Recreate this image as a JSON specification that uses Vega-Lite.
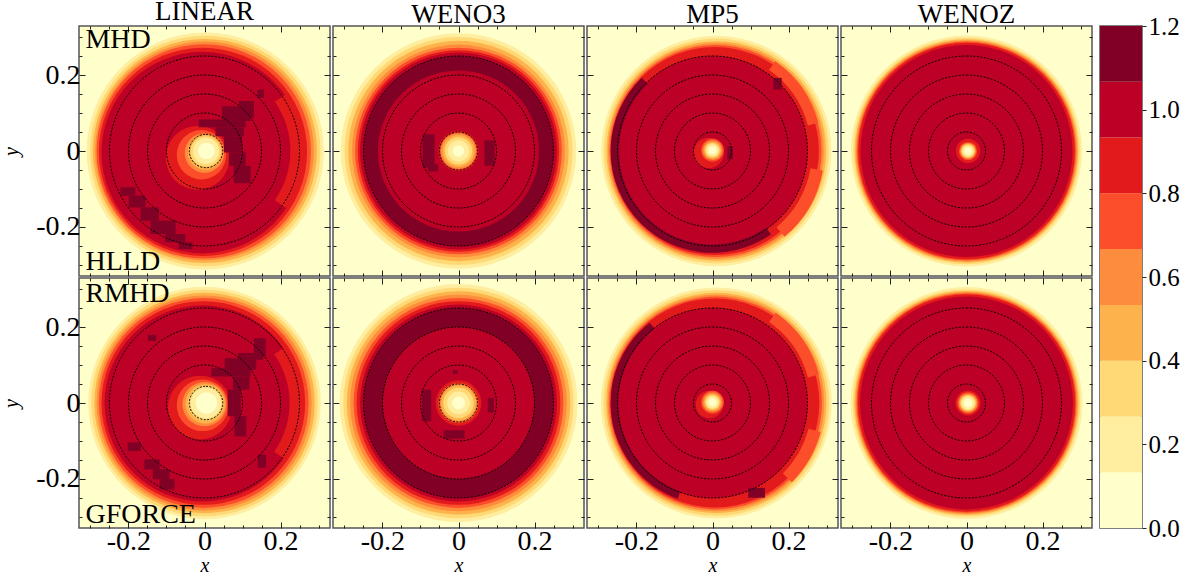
{
"$schema":"https://vega.github.io/schema/vega-lite/v6.json",
"background":"white",
"padding":{"left":0,"top":-3,"right":0,"bottom":0},
"config":{"view":{"fill":"#ffffcc","stroke":"#555","strokeWidth":1.5},"font":"Liberation Serif",
"axis":{"grid":false,"domain":false,"tickCount":13,"labels":false,"tickColor":"#222","tickWidth":1,"tickSize":{"condition":{"test":"round(datum.value*100)%20==0","value":-6},"value":-3},"labelFont":"Liberation Serif","labelFontSize":28,"labelColor":"black","labelPadding":5,"labelOverlap":false,"titleFont":"Liberation Serif","titleFontStyle":"italic","titleFontWeight":"normal","titleFontSize":20,"titleColor":"black"},
"axisX":{"titlePadding":-3},"axisY":{"titlePadding":14},
"title":{"font":"Liberation Serif","fontSize":27,"fontWeight":"normal","color":"black","offset":-3,"anchor":"middle"}},
"datasets":{
"c":[{"g":"A","x":0,"y":0,"r":0.1},{"g":"A","x":0,"y":0,"r":0.15},{"g":"A","x":0,"y":0,"r":0.2},{"g":"A","x":0,"y":0,"r":0.25},{"g":"L","x":0.004,"y":0,"r":0.044},{"g":"O","x":0,"y":0,"r":0.05}],
"d":[
{"p":"L1","x":0.002,"y":0,"r":0.312,"v":0.2},{"p":"L1","x":0.002,"y":0,"r":0.303,"v":0.33},{"p":"L1","x":0.001,"y":0,"r":0.295,"v":0.47},{"p":"L1","x":0,"y":0,"r":0.288,"v":0.6},{"p":"L1","x":-0.002,"y":-0.001,"r":0.282,"v":0.73},{"p":"L1","x":-0.004,"y":-0.002,"r":0.274,"v":0.87},{"p":"L1","x":-0.006,"y":-0.004,"r":0.265,"v":1.0},
{"p":"L1","x":-0.018,"y":-0.018,"r":0.084,"v":0.87},{"p":"L1","x":-0.008,"y":-0.01,"r":0.065,"v":0.73},{"p":"L1","x":0,"y":-0.005,"r":0.052,"v":0.6},{"p":"L1","x":0.002,"y":-0.003,"r":0.046,"v":0.47},{"p":"L1","x":0.003,"y":-0.001,"r":0.04,"v":0.33},{"p":"L1","x":0.004,"y":0,"r":0.034,"v":0.2},{"p":"L1","x":0.005,"y":0,"r":0.022,"v":0.07},
{"p":"L2","x":0,"y":0,"r":0.306,"v":0.2},{"p":"L2","x":0,"y":0,"r":0.298,"v":0.33},{"p":"L2","x":0,"y":0,"r":0.29,"v":0.47},{"p":"L2","x":-0.001,"y":0,"r":0.283,"v":0.6},{"p":"L2","x":-0.002,"y":0,"r":0.276,"v":0.73},{"p":"L2","x":-0.003,"y":0,"r":0.268,"v":0.87},{"p":"L2","x":-0.005,"y":-0.001,"r":0.258,"v":1.0},
{"p":"L2","x":-0.012,"y":-0.012,"r":0.084,"v":0.87},{"p":"L2","x":-0.005,"y":-0.006,"r":0.068,"v":0.73},{"p":"L2","x":0,"y":-0.003,"r":0.058,"v":0.6},{"p":"L2","x":0.002,"y":-0.002,"r":0.052,"v":0.47},{"p":"L2","x":0.003,"y":0,"r":0.046,"v":0.33},{"p":"L2","x":0.004,"y":0,"r":0.04,"v":0.2},{"p":"L2","x":0.005,"y":0,"r":0.028,"v":0.07},
{"p":"W1","x":0,"y":0,"r":0.31,"v":0.2},{"p":"W1","x":0,"y":0,"r":0.3,"v":0.33},{"p":"W1","x":0,"y":0,"r":0.29,"v":0.47},{"p":"W1","x":0,"y":0,"r":0.28,"v":0.6},{"p":"W1","x":0,"y":0,"r":0.272,"v":0.73},{"p":"W1","x":0,"y":0,"r":0.265,"v":0.87},{"p":"W1","x":0,"y":0,"r":0.259,"v":1.0},{"p":"W1","x":0,"y":0,"r":0.25,"v":1.13},{"p":"W1","x":0,"y":0,"r":0.212,"v":1.0},
{"p":"W1","x":0,"y":0,"r":0.053,"v":0.87},{"p":"W1","x":0,"y":0,"r":0.05,"v":0.73},{"p":"W1","x":0,"y":0,"r":0.047,"v":0.6},{"p":"W1","x":0,"y":0,"r":0.042,"v":0.47},{"p":"W1","x":0,"y":0,"r":0.036,"v":0.33},{"p":"W1","x":0,"y":0,"r":0.028,"v":0.2},{"p":"W1","x":0,"y":0,"r":0.015,"v":0.07},
{"p":"W2","x":0,"y":0,"r":0.313,"v":0.2},{"p":"W2","x":0,"y":0,"r":0.303,"v":0.33},{"p":"W2","x":0,"y":0,"r":0.294,"v":0.47},{"p":"W2","x":0,"y":0,"r":0.285,"v":0.6},{"p":"W2","x":0,"y":0,"r":0.276,"v":0.73},{"p":"W2","x":0,"y":0,"r":0.268,"v":0.87},{"p":"W2","x":0,"y":0,"r":0.259,"v":1.0},{"p":"W2","x":0,"y":0,"r":0.25,"v":1.13},{"p":"W2","x":0,"y":0,"r":0.2,"v":1.0},
{"p":"W2","x":0,"y":0,"r":0.06,"v":0.87},{"p":"W2","x":0,"y":0,"r":0.053,"v":0.73},{"p":"W2","x":0,"y":0,"r":0.05,"v":0.6},{"p":"W2","x":0,"y":0,"r":0.046,"v":0.47},{"p":"W2","x":0,"y":0,"r":0.04,"v":0.33},{"p":"W2","x":0,"y":0,"r":0.03,"v":0.2},{"p":"W2","x":0,"y":0,"r":0.017,"v":0.07},
{"p":"M1","x":0.01,"y":0,"r":0.303,"v":0.2},{"p":"M1","x":0.01,"y":0,"r":0.296,"v":0.33},{"p":"M1","x":0.01,"y":0,"r":0.289,"v":0.47},{"p":"M1","x":0.009,"y":0,"r":0.284,"v":0.6},{"p":"M1","x":0.008,"y":0,"r":0.279,"v":0.73},{"p":"M1","x":0.006,"y":0,"r":0.274,"v":0.87},{"p":"M1","x":0,"y":0,"r":0.25,"v":1.0},
{"p":"M1","x":-0.01,"y":-0.005,"r":0.04,"v":0.87},{"p":"M1","x":0,"y":0.002,"r":0.03,"v":0.73},{"p":"M1","x":0,"y":0.002,"r":0.026,"v":0.6},{"p":"M1","x":0,"y":0.002,"r":0.022,"v":0.47},{"p":"M1","x":0,"y":0.002,"r":0.019,"v":0.33},{"p":"M1","x":0,"y":0.002,"r":0.016,"v":0.2},{"p":"M1","x":0,"y":0.002,"r":0.01,"v":0.07},
{"p":"M2","x":0.01,"y":0,"r":0.304,"v":0.2},{"p":"M2","x":0.01,"y":0,"r":0.297,"v":0.33},{"p":"M2","x":0.01,"y":0,"r":0.29,"v":0.47},{"p":"M2","x":0.009,"y":0,"r":0.285,"v":0.6},{"p":"M2","x":0.008,"y":0,"r":0.28,"v":0.73},{"p":"M2","x":0.006,"y":0,"r":0.275,"v":0.87},{"p":"M2","x":0,"y":0,"r":0.25,"v":1.0},
{"p":"M2","x":-0.008,"y":-0.004,"r":0.036,"v":0.87},{"p":"M2","x":0,"y":0.002,"r":0.03,"v":0.73},{"p":"M2","x":0,"y":0.002,"r":0.026,"v":0.6},{"p":"M2","x":0,"y":0.002,"r":0.022,"v":0.47},{"p":"M2","x":0,"y":0.002,"r":0.019,"v":0.33},{"p":"M2","x":0,"y":0.002,"r":0.016,"v":0.2},{"p":"M2","x":0,"y":0.002,"r":0.01,"v":0.07},
{"p":"Z1","x":0,"y":0,"r":0.304,"v":0.2},{"p":"Z1","x":0,"y":0,"r":0.298,"v":0.33},{"p":"Z1","x":0,"y":0,"r":0.294,"v":0.47},{"p":"Z1","x":0,"y":0,"r":0.291,"v":0.6},{"p":"Z1","x":0,"y":0,"r":0.288,"v":0.73},{"p":"Z1","x":0,"y":0,"r":0.285,"v":0.87},{"p":"Z1","x":0,"y":0,"r":0.279,"v":1.0},
{"p":"Z1","x":0.004,"y":0,"r":0.032,"v":0.87},{"p":"Z1","x":0.004,"y":0,"r":0.024,"v":0.73},{"p":"Z1","x":0.004,"y":0,"r":0.021,"v":0.6},{"p":"Z1","x":0.004,"y":0,"r":0.019,"v":0.47},{"p":"Z1","x":0.004,"y":0,"r":0.017,"v":0.33},{"p":"Z1","x":0.004,"y":0,"r":0.014,"v":0.2},{"p":"Z1","x":0.004,"y":0,"r":0.009,"v":0.07},
{"p":"Z2","x":0,"y":0,"r":0.305,"v":0.2},{"p":"Z2","x":0,"y":0,"r":0.299,"v":0.33},{"p":"Z2","x":0,"y":0,"r":0.295,"v":0.47},{"p":"Z2","x":0,"y":0,"r":0.292,"v":0.6},{"p":"Z2","x":0,"y":0,"r":0.289,"v":0.73},{"p":"Z2","x":0,"y":0,"r":0.286,"v":0.87},{"p":"Z2","x":0,"y":0,"r":0.28,"v":1.0},
{"p":"Z2","x":0.004,"y":0,"r":0.033,"v":0.87},{"p":"Z2","x":0.004,"y":0,"r":0.028,"v":0.73},{"p":"Z2","x":0.004,"y":0,"r":0.025,"v":0.6},{"p":"Z2","x":0.004,"y":0,"r":0.022,"v":0.47},{"p":"Z2","x":0.004,"y":0,"r":0.02,"v":0.33},{"p":"Z2","x":0.004,"y":0,"r":0.017,"v":0.2},{"p":"Z2","x":0.004,"y":0,"r":0.011,"v":0.07}
],
"s":[
{"p":"L1","x":0,"y":0,"r0":0.226,"r":0.262,"t0":55,"t1":125,"v":0.87},
{"p":"L2","x":0,"y":0,"r0":0.224,"r":0.255,"t0":55,"t1":125,"v":0.87},
{"p":"M1","x":0,"y":0,"r0":0.246,"r":0.268,"t0":145,"t1":316,"v":1.13},{"p":"M1","x":0,"y":0,"r0":0.26,"r":0.288,"t0":35,"t1":75,"v":0.73},{"p":"M1","x":0,"y":0,"r0":0.262,"r":0.295,"t0":100,"t1":140,"v":0.73},
{"p":"M2","x":0,"y":0,"r0":0.248,"r":0.268,"t0":200,"t1":322,"v":1.13},{"p":"M2","x":0,"y":0,"r0":0.26,"r":0.29,"t0":35,"t1":75,"v":0.73},{"p":"M2","x":0,"y":0,"r0":0.262,"r":0.295,"t0":105,"t1":135,"v":0.73}
],
"b":[
{"p":"L1","x":0.09,"x2":0.13,"y":0.132,"y2":0.088},{"p":"L1","x":0.046,"x2":0.121,"y":0.118,"y2":0.079},{"p":"L1","x":-0.015,"x2":0.108,"y":0.083,"y2":0.063},{"p":"L1","x":0.029,"x2":0.104,"y":0.063,"y2":0.039},{"p":"L1","x":0.051,"x2":0.099,"y":0.039,"y2":-0.004},{"p":"L1","x":0.064,"x2":0.108,"y":-0.004,"y2":-0.039},{"p":"L1","x":0.077,"x2":0.121,"y":-0.039,"y2":-0.085},{"p":"L1","x":0.139,"x2":0.156,"y":0.162,"y2":0.14},{"p":"L1","x":-0.221,"x2":-0.182,"y":-0.096,"y2":-0.118},{"p":"L1","x":-0.199,"x2":-0.155,"y":-0.118,"y2":-0.149},{"p":"L1","x":-0.168,"x2":-0.12,"y":-0.149,"y2":-0.184},{"p":"L1","x":-0.142,"x2":-0.076,"y":-0.184,"y2":-0.219},{"p":"L1","x":-0.103,"x2":-0.05,"y":-0.219,"y2":-0.241},{"p":"L1","x":-0.068,"x2":-0.032,"y":-0.241,"y2":-0.259},
{"p":"L2","x":0.13,"x2":0.161,"y":0.171,"y2":0.123},{"p":"L2","x":0.088,"x2":0.154,"y":0.132,"y2":0.114},{"p":"L2","x":0.053,"x2":0.136,"y":0.118,"y2":0.088},{"p":"L2","x":0.018,"x2":0.121,"y":0.092,"y2":0.07},{"p":"L2","x":0.075,"x2":0.118,"y":0.07,"y2":0.035},{"p":"L2","x":0.061,"x2":0.095,"y":0.035,"y2":-0.035},{"p":"L2","x":0.079,"x2":0.11,"y":-0.035,"y2":-0.088},{"p":"L2","x":-0.149,"x2":-0.127,"y":0.18,"y2":0.164},{"p":"L2","x":0.14,"x2":0.162,"y":-0.136,"y2":-0.171},{"p":"L2","x":-0.202,"x2":-0.167,"y":-0.104,"y2":-0.127},{"p":"L2","x":-0.158,"x2":-0.118,"y":-0.149,"y2":-0.175},{"p":"L2","x":-0.136,"x2":-0.092,"y":-0.175,"y2":-0.201},{"p":"L2","x":-0.118,"x2":-0.079,"y":-0.201,"y2":-0.228},
{"p":"W1","x":-0.094,"x2":-0.063,"y":0.044,"y2":-0.044},{"p":"W1","x":-0.08,"x2":-0.054,"y":-0.035,"y2":-0.054},{"p":"W1","x":0.068,"x2":0.095,"y":0.028,"y2":-0.039},
{"p":"W2","x":-0.096,"x2":-0.072,"y":0.035,"y2":-0.048},{"p":"W2","x":0.077,"x2":0.093,"y":0.013,"y2":-0.025},{"p":"W2","x":-0.039,"x2":0.016,"y":-0.072,"y2":-0.094},{"p":"W2","x":-0.015,"x2":-0.002,"y":0.086,"y2":0.077},
{"p":"M1","x":0.039,"x2":0.054,"y":0.013,"y2":-0.022},{"p":"M1","x":0.16,"x2":0.182,"y":0.193,"y2":0.162},
{"p":"M2","x":0.094,"x2":0.138,"y":-0.224,"y2":-0.25}
],
"t":[{"p":"L1","x":-0.313,"y":0.292,"l":"MHD"},{"p":"L1","x":-0.313,"y":-0.294,"l":"HLLD"},{"p":"L2","x":-0.313,"y":0.288,"l":"RMHD"},{"p":"L2","x":-0.313,"y":-0.296,"l":"GFORCE"}],
"k":[{"b0":0,"b1":0.1333,"v":0.07},{"b0":0.1333,"b1":0.2667,"v":0.2},{"b0":0.2667,"b1":0.4,"v":0.33},{"b0":0.4,"b1":0.5333,"v":0.47},{"b0":0.5333,"b1":0.6667,"v":0.6},{"b0":0.6667,"b1":0.8,"v":0.73},{"b0":0.8,"b1":0.9333,"v":0.87},{"b0":0.9333,"b1":1.0667,"v":1.0},{"b0":1.0667,"b1":1.2,"v":1.13}]
},
"hconcat":[
{"concat":[
{"width":251,"height":250,"title":"LINEAR","encoding":{"x":{"field":"x","type":"quantitative","axis":null,"scale":{"domain":[-0.33,0.33],"nice":false,"zero":false}},"y":{"field":"y","type":"quantitative","axis":null,"scale":{"domain":[-0.33,0.33],"nice":false,"zero":false}}},
"layer":[
{"data":{"name":"d"},"transform":[{"filter":"datum.p=='L1'"}],"mark":{"type":"arc","theta":0,"theta2":6.2832},"encoding":{"x":{"field":"x","type":"quantitative","title":null,"axis":{"labels":false},"scale":{"domain":[-0.33,0.33],"nice":false,"zero":false}},"y":{"field":"y","type":"quantitative","title":"y","axis":{"labels":true,"labelExpr":"datum.value==-0.2?'-0.2':datum.value==0.2?'0.2':datum.value==0?'0':''"},"scale":{"domain":[-0.33,0.33],"nice":false,"zero":false}},"radius":{"field":"r","type":"quantitative","stack":null,"scale":{"type":"linear","domain":[0,0.33],"range":[0,125.4]}},"color":{"field":"v","type":"quantitative","legend":null,"scale":{"type":"quantize","domain":[0,1.2],"range":["#ffffcc","#ffeda0","#fed976","#feb24c","#fd8d3c","#fc4e2a","#e31a1c","#bd0026","#800026"]}}}},
{"data":{"name":"s"},"transform":[{"filter":"datum.p=='L1'"}],"mark":"arc","encoding":{"theta":{"field":"t0","type":"quantitative","stack":null,"scale":{"domain":[0,360],"range":[0,6.2832]}},"theta2":{"field":"t1"},"radius":{"field":"r","type":"quantitative","stack":null},"radius2":{"field":"r0"},"color":{"field":"v","type":"quantitative","legend":null,"scale":{"type":"quantize","domain":[0,1.2],"range":["#ffffcc","#ffeda0","#fed976","#feb24c","#fd8d3c","#fc4e2a","#e31a1c","#bd0026","#800026"]}}}},
{"data":{"name":"b"},"transform":[{"filter":"datum.p=='L1'"}],"mark":{"type":"rect","color":"#800026"},"encoding":{"x2":{"field":"x2"},"y2":{"field":"y2"}}},
{"data":{"name":"c"},"transform":[{"filter":"datum.g=='A'||datum.g=='L'"}],"mark":{"type":"arc","theta":0,"theta2":6.2832,"filled":false,"stroke":"black","strokeWidth":1,"strokeDash":[2,1.5]},"encoding":{"radius":{"field":"r","type":"quantitative","stack":null},"x":{"field":"x","type":"quantitative","title":null,"axis":{"orient":"top","labels":false}},"y":{"field":"y","type":"quantitative","title":null,"axis":{"orient":"right","labels":false}}}},
{"data":{"name":"t"},"transform":[{"filter":"datum.p=='L1'"}],"mark":{"type":"text","align":"left","baseline":"middle","fontSize":28,"font":"Liberation Serif","color":"black"},"encoding":{"text":{"field":"l"}}}
],"resolve":{"axis":{"x":"independent","y":"independent"}}},

{"width":251,"height":250,"title":"WENO3","encoding":{"x":{"field":"x","type":"quantitative","axis":null,"scale":{"domain":[-0.33,0.33],"nice":false,"zero":false}},"y":{"field":"y","type":"quantitative","axis":null,"scale":{"domain":[-0.33,0.33],"nice":false,"zero":false}}},
"layer":[
{"data":{"name":"d"},"transform":[{"filter":"datum.p=='W1'"}],"mark":{"type":"arc","theta":0,"theta2":6.2832},"encoding":{"x":{"field":"x","type":"quantitative","title":null,"axis":{"labels":false},"scale":{"domain":[-0.33,0.33],"nice":false,"zero":false}},"y":{"field":"y","type":"quantitative","title":null,"axis":{"labels":false},"scale":{"domain":[-0.33,0.33],"nice":false,"zero":false}},"radius":{"field":"r","type":"quantitative","stack":null,"scale":{"type":"linear","domain":[0,0.33],"range":[0,125.4]}},"color":{"field":"v","type":"quantitative","legend":null,"scale":{"type":"quantize","domain":[0,1.2],"range":["#ffffcc","#ffeda0","#fed976","#feb24c","#fd8d3c","#fc4e2a","#e31a1c","#bd0026","#800026"]}}}},
{"data":{"name":"b"},"transform":[{"filter":"datum.p=='W1'"}],"mark":{"type":"rect","color":"#800026"},"encoding":{"x2":{"field":"x2"},"y2":{"field":"y2"}}},
{"data":{"name":"c"},"transform":[{"filter":"datum.g=='A'||datum.g=='O'"}],"mark":{"type":"arc","theta":0,"theta2":6.2832,"filled":false,"stroke":"black","strokeWidth":1,"strokeDash":[2,1.5]},"encoding":{"radius":{"field":"r","type":"quantitative","stack":null},"x":{"field":"x","type":"quantitative","title":null,"axis":{"orient":"top","labels":false}},"y":{"field":"y","type":"quantitative","title":null,"axis":{"orient":"right","labels":false}}}}
],"resolve":{"axis":{"x":"independent","y":"independent"}}},

{"width":251,"height":250,"title":"MP5","encoding":{"x":{"field":"x","type":"quantitative","axis":null,"scale":{"domain":[-0.33,0.33],"nice":false,"zero":false}},"y":{"field":"y","type":"quantitative","axis":null,"scale":{"domain":[-0.33,0.33],"nice":false,"zero":false}}},
"layer":[
{"data":{"name":"d"},"transform":[{"filter":"datum.p=='M1'"}],"mark":{"type":"arc","theta":0,"theta2":6.2832},"encoding":{"x":{"field":"x","type":"quantitative","title":null,"axis":{"labels":false},"scale":{"domain":[-0.33,0.33],"nice":false,"zero":false}},"y":{"field":"y","type":"quantitative","title":null,"axis":{"labels":false},"scale":{"domain":[-0.33,0.33],"nice":false,"zero":false}},"radius":{"field":"r","type":"quantitative","stack":null,"scale":{"type":"linear","domain":[0,0.33],"range":[0,125.4]}},"color":{"field":"v","type":"quantitative","legend":null,"scale":{"type":"quantize","domain":[0,1.2],"range":["#ffffcc","#ffeda0","#fed976","#feb24c","#fd8d3c","#fc4e2a","#e31a1c","#bd0026","#800026"]}}}},
{"data":{"name":"s"},"transform":[{"filter":"datum.p=='M1'"}],"mark":"arc","encoding":{"theta":{"field":"t0","type":"quantitative","stack":null,"scale":{"domain":[0,360],"range":[0,6.2832]}},"theta2":{"field":"t1"},"radius":{"field":"r","type":"quantitative","stack":null},"radius2":{"field":"r0"},"color":{"field":"v","type":"quantitative","legend":null,"scale":{"type":"quantize","domain":[0,1.2],"range":["#ffffcc","#ffeda0","#fed976","#feb24c","#fd8d3c","#fc4e2a","#e31a1c","#bd0026","#800026"]}}}},
{"data":{"name":"b"},"transform":[{"filter":"datum.p=='M1'"}],"mark":{"type":"rect","color":"#800026"},"encoding":{"x2":{"field":"x2"},"y2":{"field":"y2"}}},
{"data":{"name":"c"},"transform":[{"filter":"datum.g=='A'||datum.g=='O'"}],"mark":{"type":"arc","theta":0,"theta2":6.2832,"filled":false,"stroke":"black","strokeWidth":1,"strokeDash":[2,1.5]},"encoding":{"radius":{"field":"r","type":"quantitative","stack":null},"x":{"field":"x","type":"quantitative","title":null,"axis":{"orient":"top","labels":false}},"y":{"field":"y","type":"quantitative","title":null,"axis":{"orient":"right","labels":false}}}}
],"resolve":{"axis":{"x":"independent","y":"independent"}}},

{"width":251,"height":250,"title":"WENOZ","encoding":{"x":{"field":"x","type":"quantitative","axis":null,"scale":{"domain":[-0.33,0.33],"nice":false,"zero":false}},"y":{"field":"y","type":"quantitative","axis":null,"scale":{"domain":[-0.33,0.33],"nice":false,"zero":false}}},
"layer":[
{"data":{"name":"d"},"transform":[{"filter":"datum.p=='Z1'"}],"mark":{"type":"arc","theta":0,"theta2":6.2832},"encoding":{"x":{"field":"x","type":"quantitative","title":null,"axis":{"labels":false},"scale":{"domain":[-0.33,0.33],"nice":false,"zero":false}},"y":{"field":"y","type":"quantitative","title":null,"axis":{"labels":false},"scale":{"domain":[-0.33,0.33],"nice":false,"zero":false}},"radius":{"field":"r","type":"quantitative","stack":null,"scale":{"type":"linear","domain":[0,0.33],"range":[0,125.4]}},"color":{"field":"v","type":"quantitative","legend":null,"scale":{"type":"quantize","domain":[0,1.2],"range":["#ffffcc","#ffeda0","#fed976","#feb24c","#fd8d3c","#fc4e2a","#e31a1c","#bd0026","#800026"]}}}},
{"data":{"name":"c"},"transform":[{"filter":"datum.g=='A'||datum.g=='O'"}],"mark":{"type":"arc","theta":0,"theta2":6.2832,"filled":false,"stroke":"black","strokeWidth":1,"strokeDash":[2,1.5]},"encoding":{"radius":{"field":"r","type":"quantitative","stack":null},"x":{"field":"x","type":"quantitative","title":null,"axis":{"orient":"top","labels":false}},"y":{"field":"y","type":"quantitative","title":null,"axis":{"orient":"right","labels":false}}}}
],"resolve":{"axis":{"x":"independent","y":"independent"}}},

{"width":251,"height":250,"encoding":{"x":{"field":"x","type":"quantitative","axis":null,"scale":{"domain":[-0.33,0.33],"nice":false,"zero":false}},"y":{"field":"y","type":"quantitative","axis":null,"scale":{"domain":[-0.33,0.33],"nice":false,"zero":false}}},
"layer":[
{"data":{"name":"d"},"transform":[{"filter":"datum.p=='L2'"}],"mark":{"type":"arc","theta":0,"theta2":6.2832},"encoding":{"x":{"field":"x","type":"quantitative","title":"x","axis":{"labels":true,"labelExpr":"datum.value==-0.2?'-0.2':datum.value==0.2?'0.2':datum.value==0?'0':''"},"scale":{"domain":[-0.33,0.33],"nice":false,"zero":false}},"y":{"field":"y","type":"quantitative","title":"y","axis":{"labels":true,"labelExpr":"datum.value==-0.2?'-0.2':datum.value==0.2?'0.2':datum.value==0?'0':''"},"scale":{"domain":[-0.33,0.33],"nice":false,"zero":false}},"radius":{"field":"r","type":"quantitative","stack":null,"scale":{"type":"linear","domain":[0,0.33],"range":[0,125.4]}},"color":{"field":"v","type":"quantitative","legend":null,"scale":{"type":"quantize","domain":[0,1.2],"range":["#ffffcc","#ffeda0","#fed976","#feb24c","#fd8d3c","#fc4e2a","#e31a1c","#bd0026","#800026"]}}}},
{"data":{"name":"s"},"transform":[{"filter":"datum.p=='L2'"}],"mark":"arc","encoding":{"theta":{"field":"t0","type":"quantitative","stack":null,"scale":{"domain":[0,360],"range":[0,6.2832]}},"theta2":{"field":"t1"},"radius":{"field":"r","type":"quantitative","stack":null},"radius2":{"field":"r0"},"color":{"field":"v","type":"quantitative","legend":null,"scale":{"type":"quantize","domain":[0,1.2],"range":["#ffffcc","#ffeda0","#fed976","#feb24c","#fd8d3c","#fc4e2a","#e31a1c","#bd0026","#800026"]}}}},
{"data":{"name":"b"},"transform":[{"filter":"datum.p=='L2'"}],"mark":{"type":"rect","color":"#800026"},"encoding":{"x2":{"field":"x2"},"y2":{"field":"y2"}}},
{"data":{"name":"c"},"transform":[{"filter":"datum.g=='A'||datum.g=='L'"}],"mark":{"type":"arc","theta":0,"theta2":6.2832,"filled":false,"stroke":"black","strokeWidth":1,"strokeDash":[2,1.5]},"encoding":{"radius":{"field":"r","type":"quantitative","stack":null},"x":{"field":"x","type":"quantitative","title":null,"axis":{"orient":"top","labels":false}},"y":{"field":"y","type":"quantitative","title":null,"axis":{"orient":"right","labels":false}}}},
{"data":{"name":"t"},"transform":[{"filter":"datum.p=='L2'"}],"mark":{"type":"text","align":"left","baseline":"middle","fontSize":28,"font":"Liberation Serif","color":"black"},"encoding":{"text":{"field":"l"}}}
],"resolve":{"axis":{"x":"independent","y":"independent"}}},

{"width":251,"height":250,"encoding":{"x":{"field":"x","type":"quantitative","axis":null,"scale":{"domain":[-0.33,0.33],"nice":false,"zero":false}},"y":{"field":"y","type":"quantitative","axis":null,"scale":{"domain":[-0.33,0.33],"nice":false,"zero":false}}},
"layer":[
{"data":{"name":"d"},"transform":[{"filter":"datum.p=='W2'"}],"mark":{"type":"arc","theta":0,"theta2":6.2832},"encoding":{"x":{"field":"x","type":"quantitative","title":"x","axis":{"labels":true,"labelExpr":"datum.value==-0.2?'-0.2':datum.value==0.2?'0.2':datum.value==0?'0':''"},"scale":{"domain":[-0.33,0.33],"nice":false,"zero":false}},"y":{"field":"y","type":"quantitative","title":null,"axis":{"labels":false},"scale":{"domain":[-0.33,0.33],"nice":false,"zero":false}},"radius":{"field":"r","type":"quantitative","stack":null,"scale":{"type":"linear","domain":[0,0.33],"range":[0,125.4]}},"color":{"field":"v","type":"quantitative","legend":null,"scale":{"type":"quantize","domain":[0,1.2],"range":["#ffffcc","#ffeda0","#fed976","#feb24c","#fd8d3c","#fc4e2a","#e31a1c","#bd0026","#800026"]}}}},
{"data":{"name":"b"},"transform":[{"filter":"datum.p=='W2'"}],"mark":{"type":"rect","color":"#800026"},"encoding":{"x2":{"field":"x2"},"y2":{"field":"y2"}}},
{"data":{"name":"c"},"transform":[{"filter":"datum.g=='A'||datum.g=='O'"}],"mark":{"type":"arc","theta":0,"theta2":6.2832,"filled":false,"stroke":"black","strokeWidth":1,"strokeDash":[2,1.5]},"encoding":{"radius":{"field":"r","type":"quantitative","stack":null},"x":{"field":"x","type":"quantitative","title":null,"axis":{"orient":"top","labels":false}},"y":{"field":"y","type":"quantitative","title":null,"axis":{"orient":"right","labels":false}}}}
],"resolve":{"axis":{"x":"independent","y":"independent"}}},

{"width":251,"height":250,"encoding":{"x":{"field":"x","type":"quantitative","axis":null,"scale":{"domain":[-0.33,0.33],"nice":false,"zero":false}},"y":{"field":"y","type":"quantitative","axis":null,"scale":{"domain":[-0.33,0.33],"nice":false,"zero":false}}},
"layer":[
{"data":{"name":"d"},"transform":[{"filter":"datum.p=='M2'"}],"mark":{"type":"arc","theta":0,"theta2":6.2832},"encoding":{"x":{"field":"x","type":"quantitative","title":"x","axis":{"labels":true,"labelExpr":"datum.value==-0.2?'-0.2':datum.value==0.2?'0.2':datum.value==0?'0':''"},"scale":{"domain":[-0.33,0.33],"nice":false,"zero":false}},"y":{"field":"y","type":"quantitative","title":null,"axis":{"labels":false},"scale":{"domain":[-0.33,0.33],"nice":false,"zero":false}},"radius":{"field":"r","type":"quantitative","stack":null,"scale":{"type":"linear","domain":[0,0.33],"range":[0,125.4]}},"color":{"field":"v","type":"quantitative","legend":null,"scale":{"type":"quantize","domain":[0,1.2],"range":["#ffffcc","#ffeda0","#fed976","#feb24c","#fd8d3c","#fc4e2a","#e31a1c","#bd0026","#800026"]}}}},
{"data":{"name":"s"},"transform":[{"filter":"datum.p=='M2'"}],"mark":"arc","encoding":{"theta":{"field":"t0","type":"quantitative","stack":null,"scale":{"domain":[0,360],"range":[0,6.2832]}},"theta2":{"field":"t1"},"radius":{"field":"r","type":"quantitative","stack":null},"radius2":{"field":"r0"},"color":{"field":"v","type":"quantitative","legend":null,"scale":{"type":"quantize","domain":[0,1.2],"range":["#ffffcc","#ffeda0","#fed976","#feb24c","#fd8d3c","#fc4e2a","#e31a1c","#bd0026","#800026"]}}}},
{"data":{"name":"b"},"transform":[{"filter":"datum.p=='M2'"}],"mark":{"type":"rect","color":"#800026"},"encoding":{"x2":{"field":"x2"},"y2":{"field":"y2"}}},
{"data":{"name":"c"},"transform":[{"filter":"datum.g=='A'||datum.g=='O'"}],"mark":{"type":"arc","theta":0,"theta2":6.2832,"filled":false,"stroke":"black","strokeWidth":1,"strokeDash":[2,1.5]},"encoding":{"radius":{"field":"r","type":"quantitative","stack":null},"x":{"field":"x","type":"quantitative","title":null,"axis":{"orient":"top","labels":false}},"y":{"field":"y","type":"quantitative","title":null,"axis":{"orient":"right","labels":false}}}}
],"resolve":{"axis":{"x":"independent","y":"independent"}}},

{"width":251,"height":250,"encoding":{"x":{"field":"x","type":"quantitative","axis":null,"scale":{"domain":[-0.33,0.33],"nice":false,"zero":false}},"y":{"field":"y","type":"quantitative","axis":null,"scale":{"domain":[-0.33,0.33],"nice":false,"zero":false}}},
"layer":[
{"data":{"name":"d"},"transform":[{"filter":"datum.p=='Z2'"}],"mark":{"type":"arc","theta":0,"theta2":6.2832},"encoding":{"x":{"field":"x","type":"quantitative","title":"x","axis":{"labels":true,"labelExpr":"datum.value==-0.2?'-0.2':datum.value==0.2?'0.2':datum.value==0?'0':''"},"scale":{"domain":[-0.33,0.33],"nice":false,"zero":false}},"y":{"field":"y","type":"quantitative","title":null,"axis":{"labels":false},"scale":{"domain":[-0.33,0.33],"nice":false,"zero":false}},"radius":{"field":"r","type":"quantitative","stack":null,"scale":{"type":"linear","domain":[0,0.33],"range":[0,125.4]}},"color":{"field":"v","type":"quantitative","legend":null,"scale":{"type":"quantize","domain":[0,1.2],"range":["#ffffcc","#ffeda0","#fed976","#feb24c","#fd8d3c","#fc4e2a","#e31a1c","#bd0026","#800026"]}}}},
{"data":{"name":"c"},"transform":[{"filter":"datum.g=='A'||datum.g=='O'"}],"mark":{"type":"arc","theta":0,"theta2":6.2832,"filled":false,"stroke":"black","strokeWidth":1,"strokeDash":[2,1.5]},"encoding":{"radius":{"field":"r","type":"quantitative","stack":null},"x":{"field":"x","type":"quantitative","title":null,"axis":{"orient":"top","labels":false}},"y":{"field":"y","type":"quantitative","title":null,"axis":{"orient":"right","labels":false}}}}
],"resolve":{"axis":{"x":"independent","y":"independent"}}}
],"columns":4,"spacing":{"row":2,"column":3},"bounds":"flush"},
{"width":42,"height":502,"data":{"name":"k"},"mark":"rect","encoding":{"y":{"field":"b0","type":"quantitative","title":null,"scale":{"domain":[0,1.2],"nice":false},"axis":{"orient":"right","labels":true,"values":[0,0.2,0.4,0.6,0.8,1.0,1.2],"format":".1f","tickSize":4,"labelPadding":2,"labelFontSize":25}},"y2":{"field":"b1"},"color":{"field":"v","type":"quantitative","legend":null,"scale":{"type":"quantize","domain":[0,1.2],"range":["#ffffcc","#ffeda0","#fed976","#feb24c","#fd8d3c","#fc4e2a","#e31a1c","#bd0026","#800026"]}}}}
],"spacing":5}
